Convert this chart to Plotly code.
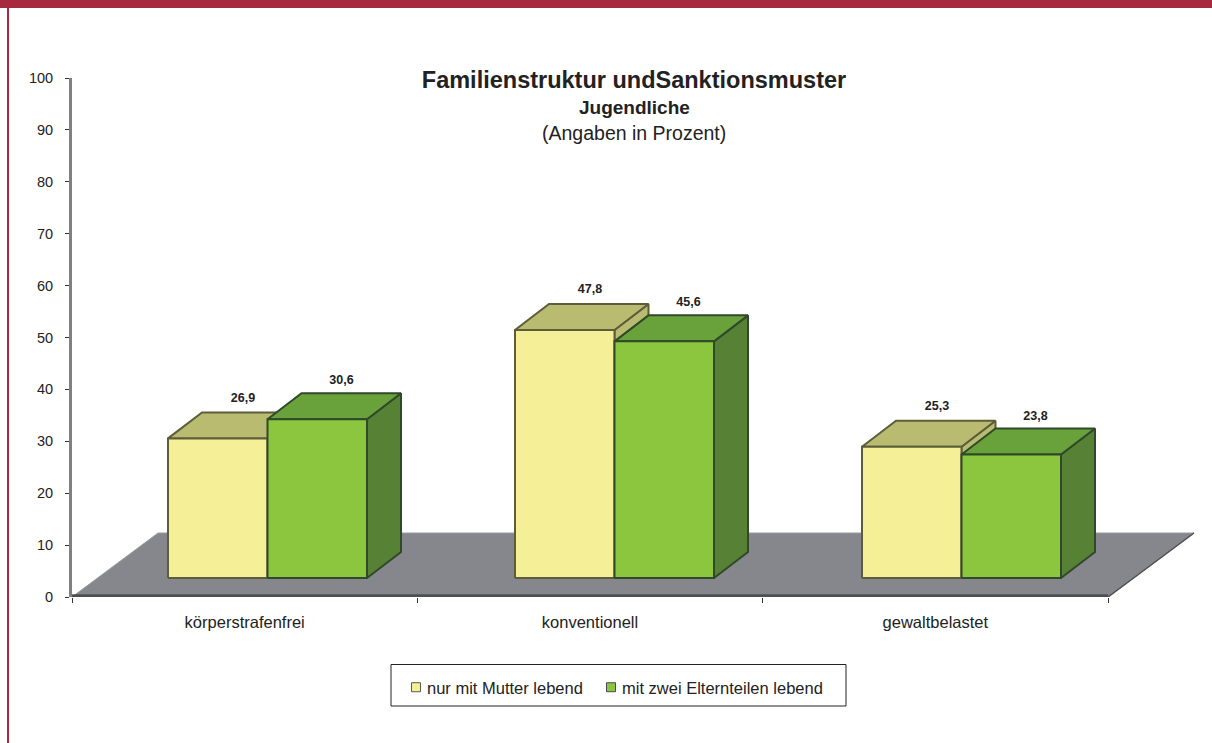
import plotly.graph_objects as go

categories = ["körperstrafenfrei", "konventionell", "gewaltbelastet"]
series_names = ["nur mit Mutter lebend", "mit zwei Elternteilen lebend"]
mutter = [26.9, 47.8, 25.3]
zwei_eltern = [30.6, 45.6, 23.8]
y_ticks = list(range(0, 101, 10))

W, H = 1212, 743
L, R, T, B = 72, 1200, 78, 597
PX_X = (1108 - 72) / 3
PX_Y = (B - T) / 100
X_MAX = (R - L) / PX_X

DX, DY = 34 / PX_X, 26 / PX_Y
FLOOR_DX, FLOOR_DY = 86 / PX_X, 64 / PX_Y
BAR_W = 99.5 / PX_X
FIRST = 96 / PX_X
STEP = 347 / PX_X
BASE = 19 / PX_Y

styles = [
    dict(front="#F5EF97", top="#B9BC70", side="#B9BC70", edge="#5D5D3A", legend_edge="#5A5A4A"),
    dict(front="#8CC63F", top="#69A23A", side="#578236", edge="#30492A", legend_edge="#4A4A4A"),
]


def poly(xs, ys, fill, edge, width=2):
    return go.Scatter(
        x=xs + xs[:1], y=ys + ys[:1], mode="lines", fill="toself", fillcolor=fill,
        line=dict(color=edge, width=width), hoverinfo="skip", showlegend=False,
    )


fig = go.Figure()

# floor
fig.add_trace(poly([0, 3, 3 + FLOOR_DX, FLOOR_DX], [0, 0, FLOOR_DY, FLOOR_DY], "#85878C", "#9A9B9F", 1))
fig.add_trace(go.Scatter(x=[0, 3], y=[0.25, 0.25], mode="lines", line=dict(color="#4F4F52", width=3),
                         hoverinfo="skip", showlegend=False))
fig.add_trace(go.Scatter(x=[3, 3 + FLOOR_DX], y=[0, FLOOR_DY], mode="lines", line=dict(color="#4F4F52", width=1.5),
                         hoverinfo="skip", showlegend=False))

label_x, label_y, label_text = [], [], []
for g in range(len(categories)):
    for s, values in enumerate([mutter, zwei_eltern]):
        st = styles[s]
        x0 = FIRST + g * STEP + s * BAR_W
        x1 = x0 + BAR_W
        y1 = BASE + values[g]
        fig.add_trace(poly([x1, x1 + DX, x1 + DX, x1], [BASE, BASE + DY, y1 + DY, y1], st["side"], st["edge"]))
        fig.add_trace(poly([x0, x1, x1 + DX, x0 + DX], [y1, y1, y1 + DY, y1 + DY], st["top"], st["edge"]))
        fig.add_trace(poly([x0, x1, x1, x0], [BASE, BASE, y1, y1], st["front"], st["edge"]))
        label_x.append(x0 + (75 - s) / PX_X)
        label_y.append(y1 + (40 - s * 2) / PX_Y)
        label_text.append(f"{values[g]:.1f}".replace(".", ","))

fig.add_trace(go.Scatter(
    x=label_x, y=label_y, text=label_text, mode="text", textposition="middle center",
    textfont=dict(family="Liberation Sans", size=12.5, color="#222222", weight="bold"),
    hoverinfo="skip", showlegend=False,
))

for name, st in zip(series_names, styles):
    fig.add_trace(go.Scatter(
        x=[None], y=[None], mode="markers", name=name,
        marker=dict(symbol="square", size=9, color=st["front"], line=dict(color=st["legend_edge"], width=1)),
    ))


def pxx(v):
    return (v - L) / (R - L)


def pxy(v):
    return (B - v) / (B - T)


shapes = [
    dict(type="rect", xref="paper", yref="paper", x0=pxx(0), x1=pxx(W), y0=pxy(0), y1=pxy(8),
         fillcolor="#A6293F", line=dict(width=0), layer="below"),
    dict(type="rect", xref="paper", yref="paper", x0=pxx(7), x1=pxx(9), y0=pxy(8), y1=pxy(H),
         fillcolor="#A6293F", line=dict(width=0), layer="below"),
    dict(type="rect", xref="paper", yref="paper", x0=pxx(391), x1=pxx(846), y0=pxy(664.5), y1=pxy(706),
         fillcolor="white", line=dict(color="#222222", width=1), layer="below"),
]

annotations = [
    dict(text="<b>Jugendliche</b>", xref="paper", yref="paper", x=pxx(634), y=pxy(108), yanchor="middle",
         showarrow=False, font=dict(family="Liberation Sans", size=19, color="#222222")),
    dict(text="(Angaben in Prozent)", xref="paper", yref="paper", x=pxx(634), y=pxy(133), yanchor="middle",
         showarrow=False, font=dict(family="Liberation Sans", size=19.5, color="#222222")),
]

fig.update_layout(
    width=W, height=H, autosize=False,
    margin=dict(l=L, r=W - R, t=T, b=H - B, pad=0),
    paper_bgcolor="white", plot_bgcolor="white",
    font=dict(family="Liberation Sans", size=14, color="#222222"),
    title=dict(text="<b>Familienstruktur undSanktionsmuster</b>", x=634 / W, xanchor="center",
               y=1 - 80 / H, yanchor="middle", font=dict(family="Liberation Sans", size=23.5, color="#222222")),
    xaxis=dict(range=[0, X_MAX], tickmode="array", tickvals=[0.5, 1.5, 2.5], ticktext=categories,
               ticks="", showgrid=False, zeroline=False, showline=False, ticklen=0,
               tickfont=dict(size=16.5), ticklabelstandoff=13,
               minor=dict(tickmode="array", tickvals=[0, 1, 2, 3], ticks="outside", ticklen=5,
                          tickcolor="#333333", tickwidth=1, showgrid=False)),
    yaxis=dict(range=[0, 100], tickmode="array", tickvals=y_ticks, ticks="outside", ticklen=4,
               tickcolor="#333333", tickwidth=1, showgrid=False, zeroline=False, showline=True,
               linecolor="#808080", linewidth=3, tickfont=dict(size=14.5), ticklabelstandoff=9),
    showlegend=True,
    legend=dict(orientation="h", xref="paper", yref="paper", x=pxx(396), y=pxy(670), xanchor="left", yanchor="top",
                bgcolor="rgba(0,0,0,0)", borderwidth=0, entrywidth=150, entrywidthmode="pixels",
                font=dict(size=16.5), traceorder="normal"),
    shapes=shapes, annotations=annotations,
)

fig.write_html(
    "out.html",
    config={"displayModeBar": False},
    post_script="document.body.style.margin='0';"
                "document.querySelectorAll('.legendtext').forEach(function(t){t.setAttribute('x','31');});"
                "document.querySelectorAll('.legend .scrollbox, .legend .traces, .legend').forEach(function(s){"
                "s.removeAttribute('clip-path');s.style.clipPath='none';});"
                "document.querySelectorAll('.legend .legend-3dclip, .legend [clip-path]').forEach(function(s){"
                "s.removeAttribute('clip-path');});",
)
